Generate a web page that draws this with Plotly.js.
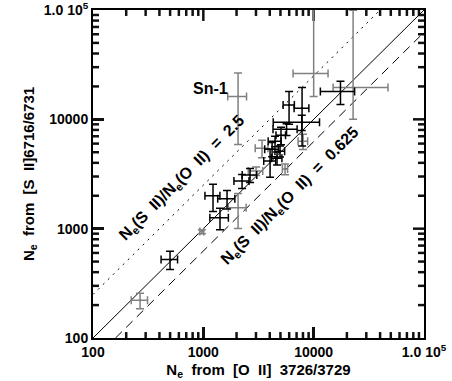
<!DOCTYPE html>
<html>
<head>
<meta charset="utf-8">
<script src="https://cdn.plot.ly/plotly-3.0.1.min.js"></script>
<style>
  body { margin: 0; background: #fff; }
  #chart { width: 452px; height: 381px; }
</style>
</head>
<body>
<div id="chart"></div>
<script>
// black points: Ne [O II], Ne [S II] and their errors
const blackX  = [499, 1224, 1416, 1640, 2244, 2650, 4027, 4198, 4656, 4468, 4957, 5984, 7850, 7800, 5680, 5058, 17500];
const blackY  = [523, 1995, 1259, 1874, 2731, 3097, 4150, 5337, 4416, 6310, 5117, 13500, 12600, 9390, 8110, 7160, 18000];
const blackEx = [85, 190, 270, 290, 350, 400, 500, 600, 500, 600, 500, 700, 1200, 3500, 1400, 500, 6000];
const blackEy = [100, 560, 280, 360, 400, 450, 1200, 800, 600, 700, 600, 4500, 6900, 1500, 1000, 1300, 4300];

// gray points (last two have bars running off the top)
const grayX       = [267, 970, 2064, 3005, 2064, 3404, 5505, 8020, 10000, 22770];
const grayY       = [221, 940, 1552, 3365, 16180, 5450, 3508, 6310, 26200, 19540];
const grayExPlus  = [45, 40, 380, 450, 400, 450, 300, 800, 3500, 24400];
const grayExMinus = [45, 40, 380, 450, 400, 450, 300, 800, 3500, 7770];
const grayEyPlus  = [36, 40, 550, 300, 10300, 1000, 400, 1000, 80000, 80000];
const grayEyMinus = [36, 40, 550, 300, 10300, 1000, 400, 1000, 10000, 9500];

// ratio lines Ne(S II) = k * Ne(O II)
const ratios = [1, 2.5, 0.625];
const ratioDash = ['solid', '2px,5px', '9px,6px'];

const tickVals = [100, 1000, 10000, 100000];
const tickText = ['100', '1000', '10000', '1.0 10<sup>5</sup>'];

const minorVals = [];
for (let d = 100; d < 100000; d *= 10) {
    for (let m = 2; m <= 9; m++) minorVals.push(m * d);
}

const traces = [];

// ticks inside on all four sides, one line trace per side (about 110 px per decade)
function tickTraces(vals, len) {
    const f = Math.pow(10, len / 110);
    const sides = [
        v => [[v, v], [100, 100 * f]],
        v => [[v, v], [1e5, 1e5 / f]],
        v => [[100, 100 * f], [v, v]],
        v => [[1e5, 1e5 / f], [v, v]]
    ];
    sides.forEach(side => {
        const sx = [], sy = [];
        vals.forEach(v => {
            const [a, b] = side(v);
            sx.push(a[0], a[1], null);
            sy.push(b[0], b[1], null);
        });
        traces.push({
            x: sx, y: sy, mode: 'lines', type: 'scatter',
            line: { color: '#111', width: 2.5 }
        });
    });
}
tickTraces(tickVals.slice(1, 3), 11);
tickTraces(minorVals, 6);

ratios.forEach((k, i) => {
    const x0 = Math.max(100, 100 / k), x1 = Math.min(100000, 100000 / k);
    traces.push({
        x: [x0, x1], y: [x0 * k, x1 * k], mode: 'lines', type: 'scatter',
        line: { color: '#000', width: 1, dash: ratioDash[i] }
    });
});

traces.push({
    x: grayX, y: grayY, mode: 'markers', type: 'scatter',
    marker: { color: '#808080', size: 2 },
    error_x: { type: 'data', symmetric: false, array: grayExPlus, arrayminus: grayExMinus, color: '#808080', thickness: 1.5, width: 4 },
    error_y: { type: 'data', symmetric: false, array: grayEyPlus, arrayminus: grayEyMinus, color: '#808080', thickness: 1.5, width: 4 }
});

traces.push({
    x: blackX, y: blackY, mode: 'markers', type: 'scatter',
    marker: { color: '#000', size: 2 },
    error_x: { type: 'data', array: blackEx, color: '#000', thickness: 1.5, width: 4 },
    error_y: { type: 'data', array: blackEy, color: '#000', thickness: 1.5, width: 4 }
});

const tickFont = { family: 'Liberation Sans, Arial, sans-serif', size: 14, color: '#000', weight: 'bold' };
const bigFont = { family: 'Liberation Sans, Arial, sans-serif', size: 16, color: '#000', weight: 'bold' };
const titleFont = { family: 'Liberation Sans, Arial, sans-serif', size: 15, color: '#000', weight: 'bold' };

function makeAxis(title) {
    return {
        type: 'log', range: [2, 5], tickvals: tickVals, ticktext: tickText,
        ticks: 'inside', ticklen: 11, tickwidth: 2.5, tickcolor: '#111', ticklabeloverflow: 'allow',
        showline: true, linecolor: '#000', linewidth: 2, mirror: true,
        showgrid: false, zeroline: false, tickfont: tickFont,
        title: { text: title, font: titleFont, standoff: 6 }
    };
}

const sp = '&nbsp;&nbsp;';
const layout = {
    width: 452, height: 381,
    margin: { l: 93, r: 28, t: 10, b: 43 },
    showlegend: false,
    xaxis: makeAxis('N<sub>e</sub>' + sp + 'from' + sp + '[O' + sp + 'II]' + sp + '3726/3729'),
    yaxis: makeAxis('N<sub>e</sub>' + sp + 'from' + sp + '[S' + sp + 'II]6716/6731'),
    annotations: [
        { text: 'N<sub>e</sub>(S' + sp + 'II)/N<sub>e</sub>(O' + sp + 'II)' + sp + '=' + sp + '2.5', x: 2.807, y: 3.455, xref: 'x', yref: 'y',
          textangle: -45, showarrow: false, font: bigFont },
        { text: 'N<sub>e</sub>(S' + sp + 'II)/N<sub>e</sub>(O' + sp + 'II)' + sp + '=' + sp + '0.625', x: 3.786, y: 3.291, xref: 'x', yref: 'y',
          textangle: -45, showarrow: false, font: bigFont },
        { text: 'Sn-1', x: 3.242, y: 4.282, xref: 'x', yref: 'y', xanchor: 'right',
          showarrow: false, font: bigFont }
    ]
};

Plotly.newPlot('chart', traces, layout, { displayModeBar: false, staticPlot: true });
</script>
</body>
</html>
